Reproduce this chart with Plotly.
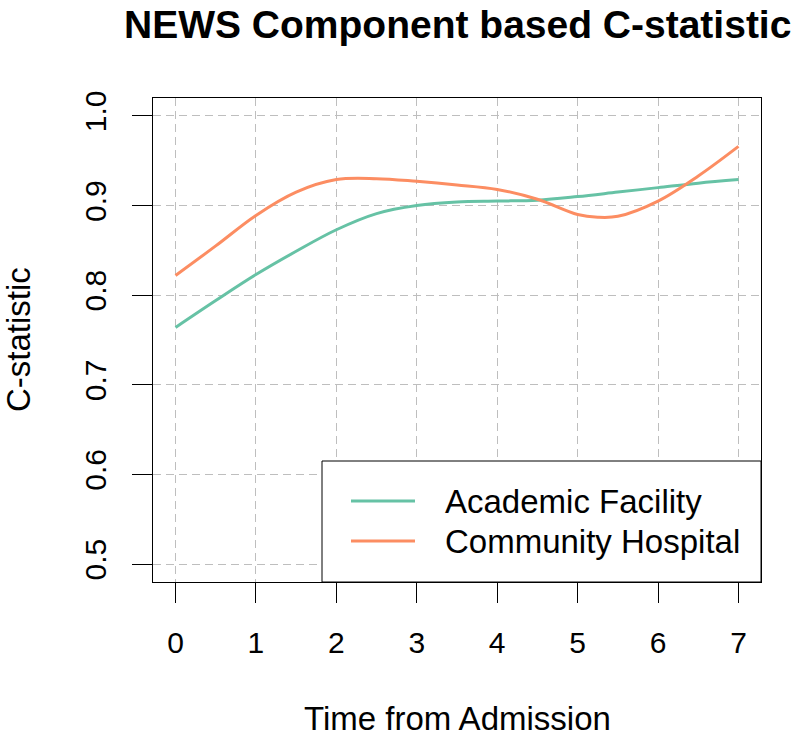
import plotly.graph_objects as go

# ---- data ----
days_academic = [0, 0.5, 1, 1.5, 2, 2.5, 3, 3.5, 4, 4.5, 5, 5.5, 6, 6.5, 7]
cstat_academic = [0.764, 0.794, 0.823, 0.849, 0.873, 0.891, 0.900, 0.904, 0.905,
                  0.906, 0.910, 0.915, 0.920, 0.925, 0.929]
days_community = [0, 0.5, 1, 1.5, 2, 2.5, 3, 3.5, 4, 4.5, 5, 5.25, 5.5, 6, 6.5, 7]
cstat_community = [0.822, 0.855, 0.889, 0.915, 0.929, 0.930, 0.927, 0.923, 0.918,
                   0.907, 0.890, 0.887, 0.888, 0.905, 0.933, 0.966]
series_names = ["Academic Facility", "Community Hospital"]
series_colors = ["#66C2A5", "#FC8D62"]
x_ticks = [0, 1, 2, 3, 4, 5, 6, 7]
y_ticks = [0.5, 0.6, 0.7, 0.8, 0.9, 1.0]
y_ticklabels = ["0.5", "0.6", "0.7", "0.8", "0.9", "1.0"]

FONT = "Liberation Sans, Arial, Helvetica, sans-serif"

fig = go.Figure()
for xs, ys, name, col in [(days_academic, cstat_academic, series_names[0], series_colors[0]),
                          (days_community, cstat_community, series_names[1], series_colors[1])]:
    fig.add_trace(go.Scatter(x=xs, y=ys, mode="lines", name=name,
                             line=dict(color=col, width=3, shape="spline", smoothing=1.0),
                             showlegend=False))

W, H = 800, 736
L, R, T, B = 153, 39, 98, 154
pw, ph = W - L - R, H - T - B

def px(xpix):
    return (xpix - L) / pw

def py(ypix):
    return (H - B - ypix) / ph

axis_common = dict(showline=True, mirror=True, linecolor="black", linewidth=1,
                   ticks="outside", ticklen=20, tickwidth=1, tickcolor="black",
                   showgrid=True, gridcolor="#BEBEBE", gridwidth=1, griddash="8px,5px",
                   zeroline=False, tickfont=dict(family=FONT, size=30, color="black"))

fig.update_layout(
    width=W, height=H,
    margin=dict(l=L, r=R, t=T, b=B, autoexpand=False),
    paper_bgcolor="white", plot_bgcolor="white",
    font=dict(family=FONT, color="black"),
    xaxis=dict(range=[-0.28, 7.28], tickvals=x_ticks, ticklabelstandoff=14, **axis_common),
    yaxis=dict(range=[0.48, 1.02], tickvals=y_ticks, ticktext=y_ticklabels,
               tickangle=-90, ticklabelstandoff=14, **axis_common),
    showlegend=False,
)

# title and axis titles
fig.add_annotation(text="<b>NEWS Component based C-statistic</b>", xref="paper", yref="paper",
                   x=0.5, y=py(1), xanchor="center", yanchor="top", showarrow=False,
                   font=dict(family=FONT, size=39, color="black"))
fig.add_annotation(text="Time from Admission", xref="paper", yref="paper",
                   x=0.5, y=py(718), xanchor="center", yanchor="middle", showarrow=False,
                   font=dict(family=FONT, size=33, color="black"))
fig.add_annotation(text="C-statistic", xref="paper", yref="paper",
                   x=px(18), y=0.5, xanchor="center", yanchor="middle", showarrow=False,
                   textangle=-90, font=dict(family=FONT, size=33, color="black"))

# legend box (R-style)
fig.add_shape(type="rect", xref="paper", yref="paper", x0=px(322), x1=1.0, y0=0.0, y1=py(461),
              line=dict(color="black", width=1), fillcolor="white", layer="above")
for i, (name, col) in enumerate(zip(series_names, series_colors)):
    yy = py(501 + 40 * i)
    fig.add_shape(type="line", xref="paper", yref="paper", x0=px(351), x1=px(415), y0=yy, y1=yy,
                  line=dict(color=col, width=3), layer="above")
    fig.add_annotation(text=name, xref="paper", yref="paper", x=px(443), y=yy,
                       xanchor="left", yanchor="middle", showarrow=False,
                       font=dict(family=FONT, size=33, color="black"))

fig.write_html("out.html", config={"displayModeBar": False},
               post_script="document.body.style.margin='0';document.body.style.padding='0';")
